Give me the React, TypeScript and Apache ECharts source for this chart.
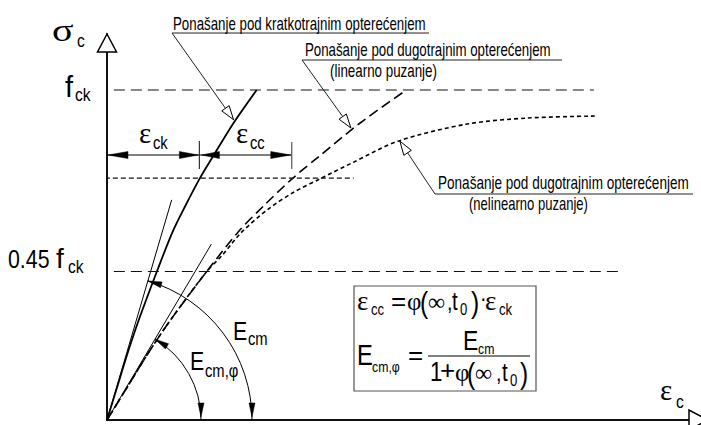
import React, { useEffect, useRef } from "react";
import * as echarts from "echarts";

// Stress levels (relative to fck) and strains (relative to εck)
const stressShort = [0, 0.1, 0.2, 0.3, 0.45, 0.57, 0.65, 0.73, 0.8, 0.9, 1.0];
const strainShort = [0, 0.11, 0.22, 0.34, 0.54, 0.71, 0.85, 1.0, 1.15, 1.37, 1.62];
const strainLinear = [0, 0.22, 0.44, 0.68, 1.08, 1.42, 1.7, 2.0, 2.3, 2.74, 3.24];
const stressNonlinear = [0, 0.1, 0.2, 0.3, 0.45, 0.5, 0.57, 0.64, 0.69, 0.73, 0.78, 0.845, 0.897, 0.915, 0.921];
const strainNonlinear = [0, 0.22, 0.44, 0.68, 1.08, 1.25, 1.46, 1.75, 2.02, 2.3, 2.66, 3.15, 3.9, 4.55, 5.28];
const refStress = [1.0, 0.733, 0.45];
const refStart = [-0.11, -0.11, -0.11];
const refEnd = [5.27, 2.67, 5.54];
const tangentEcm = [0.7, 0.667];
const tangentEcmPhi = [1.13, 0.533];
const epsCk = 1.0;
const epsCc = 1.0;
const dimStress = 0.803;
const calloutTips = [
  [1.37, 0.91],
  [2.64, 0.885],
  [3.17, 0.845],
];
const calloutTexts = [
  "Ponašanje pod kratkotrajnim opterećenjem",
  "Ponašanje pod dugotrajnim opterećenjem",
  "Ponašanje pod dugotrajnim opterećenjem",
];
const calloutSubs = ["", "(linearno puzanje)", "(nelinearno puzanje)"];
const X_MAX = 6.43;
const Y_MAX = 1.1697;

const SANS = "'Liberation Sans Narrow', 'Arial Narrow', 'Liberation Sans', Arial, sans-serif";
const SERIF = "'Liberation Serif', 'Times New Roman', serif";
const NARROW = 0.82;

export default function App() {
  const ref = useRef<HTMLDivElement>(null);
  useEffect(() => {
    const chart = echarts.init(ref.current!, null, { renderer: "svg" });
    const zip = (xs: number[], ys: number[]) => xs.map((x, i) => [x, ys[i]]);
    const line = (data: number[][], type: any, width: number, color: string, extra: any = {}) => ({
      type: "line",
      data,
      symbol: "none",
      clip: false,
      silent: true,
      lineStyle: { type, width, color },
      ...extra,
    });
    const axisCommon = {
      type: "value",
      axisLine: { show: true, onZero: false, lineStyle: { color: "#111", width: 2 } },
      axisTick: { show: false },
      axisLabel: { show: false },
      splitLine: { show: false },
    };
    chart.setOption({
      animation: false,
      grid: { left: 107, top: 34, width: 598, height: 386 },
      xAxis: { ...axisCommon, min: 0, max: X_MAX },
      yAxis: { ...axisCommon, min: 0, max: Y_MAX },
      series: [
        line(zip(strainShort, stressShort), "solid", 1.8, "#000", { smooth: 0.3 }),
        line(zip(strainLinear, stressShort), [10, 5], 1.6, "#000", { smooth: 0.3 }),
        line(zip(strainNonlinear, stressNonlinear), [4, 3], 1.6, "#000", { smooth: 0.3 }),
        line([[0, 0], tangentEcm], "solid", 1, "#000"),
        line([[0, 0], tangentEcmPhi], "solid", 1, "#000"),
        ...refStress.map((s, i) =>
          line(
            [
              [refStart[i], s],
              [refEnd[i], s],
            ],
            i === 1 ? [5, 3] : [11, 6],
            1.2,
            "#111"
          )
        ),
      ],
    });

    const canvas = document.createElement("canvas");
    const ctx = canvas.getContext("2d")!;
    const measure = (text: string, size: number, fam: string) => {
      ctx.font = `${size}px ${fam}`;
      return ctx.measureText(text).width || 1;
    };

    const P = (x: number, y: number) => chart.convertToPixel({ gridIndex: 0 }, [x, y]) as number[];
    const els: any[] = [];
    const L = (x1: number, y1: number, x2: number, y2: number, w = 1, c = "#000") =>
      els.push({ type: "line", z: 50, shape: { x1, y1, x2, y2 }, style: { stroke: c, lineWidth: w } });
    const T = (text: string, x: number, base: number, size: number, fam = SANS, sx?: number) =>
      els.push({
        type: "text",
        z: 60,
        x,
        y: base - 0.35 * size,
        scaleX: sx !== undefined ? sx : fam === SANS ? NARROW : 1,
        style: { text, fontSize: size, fontFamily: fam, fill: "#000", align: "left", verticalAlign: "middle" },
      });
    const TFit = (text: string, x: number, base: number, size: number, width: number) =>
      T(text, x, base, size, SANS, width / measure(text, size, SANS));
    const arrow = (tx: number, ty: number, dx: number, dy: number, len: number, hw: number, open = false) => {
      const bx = tx - dx * len;
      const by = ty - dy * len;
      const nx = -dy;
      const ny = dx;
      els.push({
        type: "polygon",
        z: 55,
        shape: {
          points: [
            [tx, ty],
            [bx + nx * hw, by + ny * hw],
            [bx - nx * hw, by - ny * hw],
          ],
        },
        style: open ? { fill: "#fff", stroke: "#000", lineWidth: 1 } : { fill: "#000", stroke: "#000", lineWidth: 0.5 },
      });
    };

    const O = P(0, 0);
    const top = P(0, Y_MAX);
    const right = P(X_MAX, 0);
    // axis arrows (open triangles)
    els.push({
      type: "polygon",
      z: 55,
      shape: { points: [[O[0], top[1]], [O[0] - 9.5, top[1] + 18], [O[0] + 9.5, top[1] + 18]] },
      style: { fill: "#fff", stroke: "#000", lineWidth: 1.5 },
    });
    els.push({
      type: "polygon",
      z: 55,
      shape: { points: [[right[0] + 7, O[1]], [right[0] - 12, O[1] - 10], [right[0] - 12, O[1] + 10]] },
      style: { fill: "#fff", stroke: "#000", lineWidth: 1.5 },
    });

    // dimension lines εck / εcc
    const Dy = P(0, dimStress)[1];
    const x1 = P(epsCk, 0)[0];
    const x2 = P(epsCk + epsCc, 0)[0];
    L(O[0], Dy, x2, Dy, 1);
    arrow(O[0] + 1, Dy, -1, 0, 20, 3.5);
    arrow(x1 - 1, Dy, 1, 0, 19, 3.5);
    arrow(x1 + 2, Dy, -1, 0, 18, 3.5);
    arrow(x2 - 1, Dy, 1, 0, 20, 3.5);
    L(x1, Dy - 14, x1, Dy + 14, 1.2, "#333");
    L(x2, Dy - 13, x2, Dy + 14, 1.2, "#555");
    T("ε", 139, 143, 29, SERIF);
    T("ck", 153, 149, 18);
    T("ε", 236, 143, 29, SERIF);
    T("cc", 250, 149, 18);

    // modulus arcs
    const arcs = [
      { tip: tangentEcm, r: 145 },
      { tip: tangentEcmPhi, r: 94 },
    ];
    arcs.forEach(({ tip, r }) => {
      const e = P(tip[0], tip[1]);
      const a = Math.atan2(e[1] - O[1], e[0] - O[0]);
      els.push({
        type: "arc",
        z: 50,
        shape: { cx: O[0], cy: O[1], r, startAngle: a, endAngle: 0, clockwise: true },
        style: { stroke: "#000", lineWidth: 1, fill: "none" },
      });
      arrow(O[0] + r, O[1] - 3, 0, 1, 14, 3);
      arrow(O[0] + r * Math.cos(a), O[1] + r * Math.sin(a), Math.sin(a), -Math.cos(a), 14, 3);
    });
    T("E", 233, 340, 26);
    T("cm", 248, 345, 18);
    T("E", 190, 370, 26);
    T("cm,φ", 205, 377, 18);

    // callouts
    const callouts = [
      { ux1: 172, ux2: 429, uy: 33, tx: 173, tb: 30, tw: 253, sx: 0, sb: 0, sw: 0 },
      { ux1: 302, ux2: 562, uy: 60, tx: 305, tb: 56, tw: 246, sx: 330, sb: 77, sw: 107 },
      { ux1: 435, ux2: 693, uy: 194, tx: 438, tb: 189, tw: 251, sx: 469, sb: 210, sw: 119 },
    ];
    callouts.forEach((c, i) => {
      const tip = P(calloutTips[i][0], calloutTips[i][1]);
      L(c.ux1, c.uy, c.ux2, c.uy, 1, "#222");
      L(c.ux1, c.uy, tip[0], tip[1], 1, "#222");
      const dx = tip[0] - c.ux1;
      const dy = tip[1] - c.uy;
      const d = Math.hypot(dx, dy);
      arrow(tip[0], tip[1], dx / d, dy / d, 14, 4.5, true);
      TFit(calloutTexts[i], c.tx, c.tb, 18, c.tw);
      if (calloutSubs[i]) TFit(calloutSubs[i], c.sx, c.sb, 18, c.sw);
    });

    // axis labels
    T("σ", 52, 42, 32, SERIF, 1.25);
    T("c", 77, 47, 19);
    T("f", 65, 97, 29, SANS, 1);
    T("ck", 75, 101, 19);
    T("0.45", 8, 268, 26);
    T("f", 56, 268, 28, SANS, 1);
    T("ck", 68, 273, 19);
    T("ε", 660, 400, 29, SERIF);
    T("c", 676, 408, 19);

    // formula box
    els.push({
      type: "rect",
      z: 50,
      shape: { x: 354, y: 286, width: 182, height: 105 },
      style: { fill: "#fff", stroke: "#555", lineWidth: 1.2 },
    });
    T("ε", 357, 310, 27, SERIF);
    T("cc", 371, 315, 16);
    T("=", 391, 310, 26, SANS, 1);
    T("φ", 407, 310, 25, SERIF);
    T("(", 420, 313, 30);
    T("∞", 428, 310, 24, SERIF);
    T(",", 447, 310, 24);
    T("t", 452, 310, 25);
    T("0", 460, 315, 16);
    T(")", 471, 313, 30);
    T("·", 480, 306, 24);
    T("ε", 485, 310, 27, SERIF);
    T("ck", 499, 315, 16);

    T("E", 357, 365, 29);
    T("cm,φ", 372, 372, 15);
    T("=", 408, 364, 26, SANS, 1);
    L(428, 356, 530, 356, 1.2, "#000");
    T("E", 463, 350, 28);
    T("cm", 478, 354, 15);
    T("1", 430, 381, 27);
    T("+", 440, 379, 26, SANS, 1);
    T("φ", 455, 381, 25, SERIF);
    T("(", 467, 384, 30);
    T("∞", 475, 381, 24, SERIF);
    T(",", 496, 381, 24);
    T("t", 502, 381, 25);
    T("0", 510, 386, 16);
    T(")", 520, 384, 30);

    chart.setOption({ graphic: { elements: els } });
    return () => chart.dispose();
  }, []);
  return (
    <div
      ref={ref}
      style={{ position: "fixed", left: 0, top: 0, width: 701, height: 425, background: "#fff" }}
    />
  );
}
